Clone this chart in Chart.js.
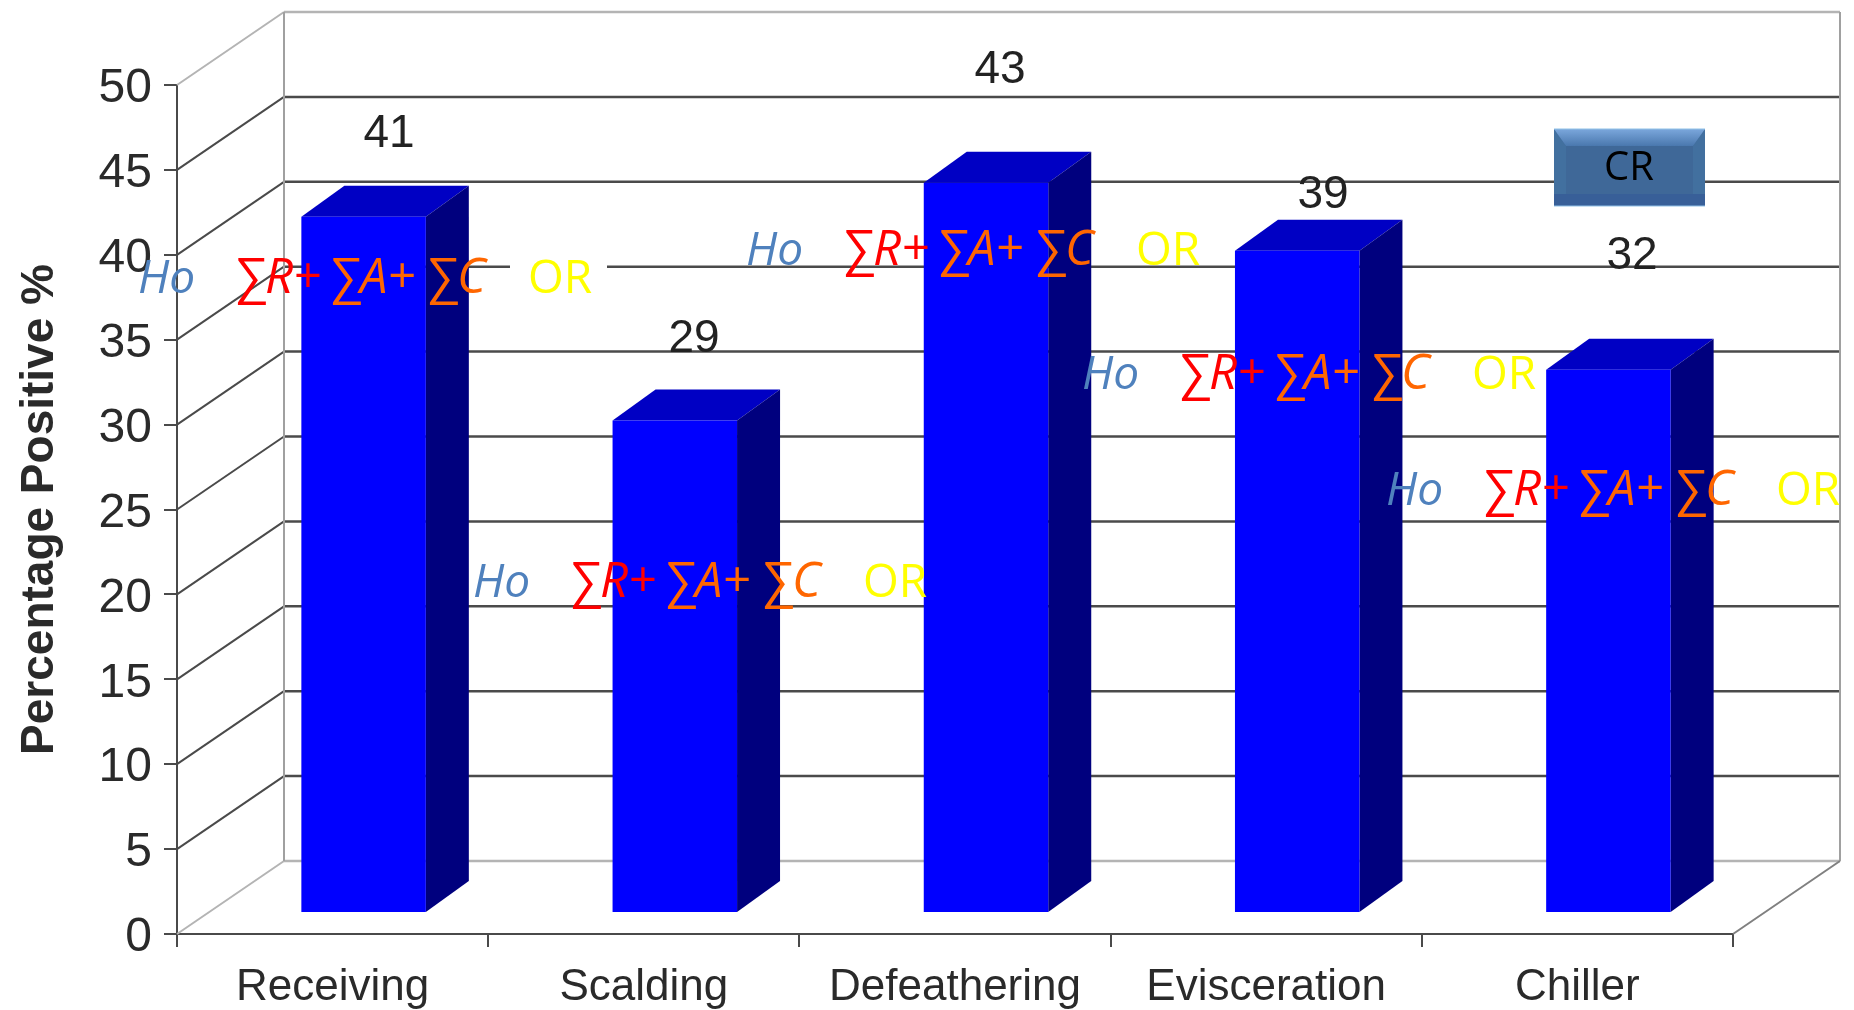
<!DOCTYPE html>
<html>
<head>
<meta charset="utf-8">
<title>Percentage Positive</title>
<script src="https://cdn.jsdelivr.net/npm/chart.js@4"></script>
<style>
  html, body { margin: 0; padding: 0; background: #fff; }
  canvas { display: block; }
</style>
</head>
<body>
<canvas id="myBars" width="1854" height="1010"></canvas>
<script>
const categories = ['Receiving', 'Scalding', 'Defeathering', 'Evisceration', 'Chiller'];
const percentPositive = [41, 29, 43, 39, 32];
const yAxisTitle = 'Percentage Positive %';
const boxLabel = 'CR';

// where the pasted-over text sits, not data
const valueLabelSpots = [[389, 134], [694, 339], [1000, 70], [1323, 195], [1632, 256]];
const formulaSpots = [[138, 293], [473, 597], [746, 265], [1082, 389], [1386, 505]];
const formulaParts = [
    { text: 'Ho', color: '#4f81bd', dx: 0, size: 46, italic: true },
    { text: '∑R+', color: '#ff0000', dx: 95, size: 49, italic: true },
    { text: '∑A+', color: '#ff6600', dx: 190, size: 49, italic: true },
    { text: '∑C', color: '#ff6600', dx: 287, size: 49, italic: true },
    { text: 'OR', color: '#ffff00', dx: 390, size: 46, italic: false }
];

// 3d look of the old spreadsheet chart
const wallDx = 107, wallDy = -73;
const barShiftX = 31, barShiftY = -21;
const barDepthX = 43, barDepthY = -31;
const darkLine = '#4a4a4a', lightLine = '#b4b4b4';

function line(ctx, x1, y1, x2, y2, color, width) {
    ctx.strokeStyle = color;
    ctx.lineWidth = width;
    ctx.beginPath();
    ctx.moveTo(x1, y1);
    ctx.lineTo(x2, y2);
    ctx.stroke();
}

function poly(ctx, points, color) {
    ctx.fillStyle = color;
    ctx.beginPath();
    points.forEach((p, i) => i ? ctx.lineTo(p[0], p[1]) : ctx.moveTo(p[0], p[1]));
    ctx.closePath();
    ctx.fill();
}

function drawBox(ctx) {
    const top = ctx.createLinearGradient(0, 129, 0, 146);
    top.addColorStop(0, '#7ba7dc');
    top.addColorStop(1, '#4a78ae');
    poly(ctx, [[1554, 129], [1705, 129], [1705, 206], [1554, 206]], '#3a6396');
    poly(ctx, [[1566, 146], [1693, 146], [1693, 194], [1566, 194]], '#3f6898');
    poly(ctx, [[1554, 129], [1566, 146], [1566, 206], [1554, 206]], '#42709f');
    poly(ctx, [[1705, 129], [1693, 146], [1693, 206], [1705, 206]], '#42709f');
    poly(ctx, [[1554, 129], [1705, 129], [1693, 146], [1566, 146]], top);
    poly(ctx, [[1554, 194], [1705, 194], [1705, 206], [1554, 206]], '#385f98');
    line(ctx, 1554, 129, 1705, 129, '#8fc0e6', 1);
    line(ctx, 1554, 206, 1705, 206, '#8fc0e6', 1);
}

const fake3d = {
    id: 'fake3d',
    beforeDatasetsDraw(chart) {
        const ctx = chart.ctx, area = chart.chartArea, y = chart.scales.y;
        ctx.save();
        y.ticks.forEach(tick => {
            const py = y.getPixelForValue(tick.value);
            const edge = tick.value === 0 || tick.value === y.max;
            const color = edge ? lightLine : darkLine;
            line(ctx, area.left, py, area.left + wallDx, py + wallDy, color, 2);
            line(ctx, area.left + wallDx, py + wallDy, area.right + wallDx, py + wallDy, color, 2.5);
        });
        const wallTop = y.getPixelForValue(y.max) + wallDy, wallBottom = y.getPixelForValue(0) + wallDy;
        line(ctx, area.left + wallDx, wallTop, area.left + wallDx, wallBottom, '#a0a0a0', 2);
        line(ctx, area.right + wallDx, wallTop, area.right + wallDx, wallBottom, '#a0a0a0', 2);
        line(ctx, area.right, area.bottom, area.right + wallDx, wallBottom, '#808080', 2);

        // white patch left behind by the pasted text
        ctx.fillStyle = '#fff';
        ctx.fillRect(510, 255, 97, 35);

        chart.getDatasetMeta(0).data.forEach(bar => {
            const left = bar.x - bar.width / 2 + barShiftX, right = bar.x + bar.width / 2 + barShiftX;
            const top = bar.y + barShiftY, base = bar.base + barShiftY;
            poly(ctx, [[left, top], [left + barDepthX, top + barDepthY],
                [right + barDepthX, top + barDepthY], [right, top]], '#0000c4');
            poly(ctx, [[right, top], [right + barDepthX, top + barDepthY],
                [right + barDepthX, base + barDepthY], [right, base]], '#00007e');
        });
        ctx.restore();
        // the bars stand a bit inside the floor
        ctx.save();
        ctx.translate(barShiftX, barShiftY);
    },
    afterDatasetsDraw(chart) {
        chart.ctx.restore();
    },
    afterDraw(chart) {
        const ctx = chart.ctx;
        ctx.save();
        ctx.textBaseline = 'middle';
        ctx.textAlign = 'center';
        ctx.fillStyle = '#222';
        ctx.font = '46px "Liberation Sans"';
        percentPositive.forEach((v, i) => {
            ctx.fillText(String(v), valueLabelSpots[i][0], valueLabelSpots[i][1]);
        });

        drawBox(ctx);
        ctx.fillStyle = '#000';
        ctx.font = '40px "Open Sans"';
        ctx.fillText(boxLabel, 1629, 169);

        ctx.textAlign = 'left';
        ctx.textBaseline = 'alphabetic';
        formulaSpots.forEach(spot => {
            formulaParts.forEach(part => {
                ctx.fillStyle = part.color;
                ctx.font = (part.italic ? 'italic ' : '') + part.size + 'px "Open Sans"';
                ctx.fillText(part.text, spot[0] + part.dx, spot[1]);
            });
        });
        ctx.restore();
    }
};

const chart = new Chart(document.getElementById('myBars'), {
    type: 'bar',
    data: {
        labels: categories,
        datasets: [{
            data: percentPositive,
            backgroundColor: '#0000ff',
            borderWidth: 0,
            categoryPercentage: 1,
            barPercentage: 0.4
        }]
    },
    options: {
        responsive: false,
        animation: false,
        layout: { padding: { top: 85, right: 121, left: 0, bottom: 0 } },
        plugins: { legend: { display: false }, tooltip: { enabled: false } },
        scales: {
            x: {
                afterFit: scale => { scale.height = 76; },
                border: { color: darkLine, width: 2 },
                grid: { drawOnChartArea: false, color: darkLine, lineWidth: 2, tickLength: 13 },
                ticks: { color: '#2a2a2a', font: { family: 'Liberation Sans', size: 44 }, padding: 14, maxRotation: 0 }
            },
            y: {
                min: 0,
                max: 50,
                afterFit: scale => { scale.width = 177; },
                border: { color: darkLine, width: 2 },
                grid: { drawOnChartArea: false, color: darkLine, lineWidth: 2, tickLength: 13 },
                ticks: { stepSize: 5, color: '#2a2a2a', font: { family: 'Liberation Sans', size: 48 }, padding: 12 },
                title: {
                    display: true,
                    text: yAxisTitle,
                    color: '#2a2a2a',
                    font: { family: 'Liberation Sans', size: 46, weight: 'bold' },
                    padding: { top: 13, bottom: 0 }
                }
            }
        }
    },
    plugins: [fake3d]
});

// the reference's y labels sit a little under their ticks
const yScale = chart.scales.y;
const drawYLabels = yScale.drawLabels;
yScale.drawLabels = function (area) {
    chart.ctx.save();
    chart.ctx.translate(0, 4);
    drawYLabels.call(this, area);
    chart.ctx.restore();
};
chart.draw();
</script>
</body>
</html>
